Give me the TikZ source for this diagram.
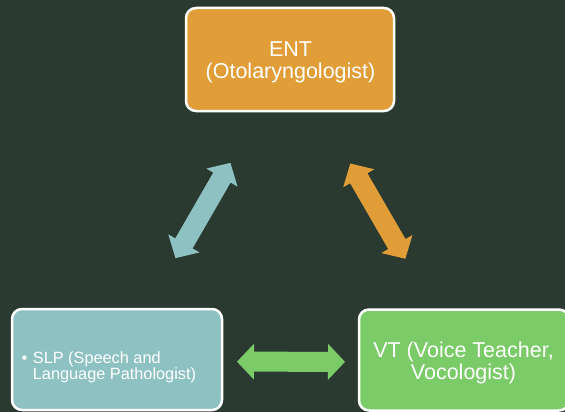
\documentclass[tikz,border=0pt]{standalone}
\usepackage{fontspec}
\setmainfont{Liberation Sans}
\usetikzlibrary{calc}

\definecolor{backdrop}{HTML}{2A3A31}
\definecolor{entfill}{HTML}{E19D37}
\definecolor{slpfill}{HTML}{8EC1C2}
\definecolor{vtfill}{HTML}{7BCB69}

% filled two-headed block arrow between two coordinates:
% shaft 20pt wide, heads 36pt wide and 17pt long
\newcommand\twoway[3]{%
  \fill[#1] (#2)
    -- ($(#2)!17pt!(#3)!18pt!90:(#3)$)
    -- ($(#2)!17pt!(#3)!10pt!90:(#3)$)
    -- ($(#3)!17pt!(#2)!10pt!-90:(#2)$)
    -- ($(#3)!17pt!(#2)!18pt!-90:(#2)$)
    -- (#3)
    -- ($(#3)!17pt!(#2)!18pt!90:(#2)$)
    -- ($(#3)!17pt!(#2)!10pt!90:(#2)$)
    -- ($(#2)!17pt!(#3)!10pt!-90:(#3)$)
    -- ($(#2)!17pt!(#3)!18pt!-90:(#3)$)
    -- cycle;}

\begin{document}
\begin{tikzpicture}[x=1pt,y=-1pt,
  rolebox/.style={draw=white, line width=2.5pt, rounded corners=10pt,
    inner sep=0pt, outer sep=0pt, minimum width=210pt, minimum height=101pt},
  rolelabel/.style={anchor=base, inner sep=0pt, text=white,
    font=\fontsize{21.5}{22}\selectfont}]

  % canvas
  \fill[backdrop] (0,0) rectangle (565,412);
  \useasboundingbox (0,0) rectangle (565,412);

  % the three specialists
  \node[rolebox, fill=entfill, minimum width=208pt, minimum height=103pt]
    (ent) at (290,59.5) {};
  \node[rolebox, fill=slpfill] (slp) at (117,359.5) {};
  \node[rolebox, fill=vtfill] (vt) at (464,360) {};

  % their labels
  \node[rolelabel] (enttext) at (290.5,56.7)
    {\begin{tabular}[t]{@{}c@{}}ENT\\(Otolaryngologist)\end{tabular}};
  \node[rolelabel] (vttext) at (463.5,357)
    {\begin{tabular}[t]{@{}c@{}}VT (Voice Teacher,\\Vocologist)\end{tabular}};
  \node[anchor=base west, inner sep=0pt, text=white,
        font=\fontsize{16.3}{13.4}\selectfont]
    (slptext) at (21.5,363.3)
    {\begin{tabular}[t]{@{}l@{\hspace{5.5pt}}l@{}}\textbullet & SLP (Speech and\\
      & Language Pathologist)\end{tabular}};

  % end points of the two-way links
  \coordinate (se) at ($(slp.center)!117pt!(ent.center)$);
  \coordinate (es) at ($(slp.center)!227pt!(ent.center)$);
  \coordinate (ev) at ($(vt.center)!227pt!(ent.center)$);
  \coordinate (ve) at ($(vt.center)!117pt!(ent.center)$);
  \coordinate (sv) at ([yshift=-2pt]$(slp.center)!120pt!(vt.center)$);
  \coordinate (vs) at ([yshift=-2pt]$(vt.center)!119pt!(slp.center)$);

  % two-way links between the roles
  \twoway{slpfill}{se}{es}
  \twoway{entfill}{ev}{ve}
  \twoway{vtfill}{sv}{vs}
\end{tikzpicture}
\end{document}
